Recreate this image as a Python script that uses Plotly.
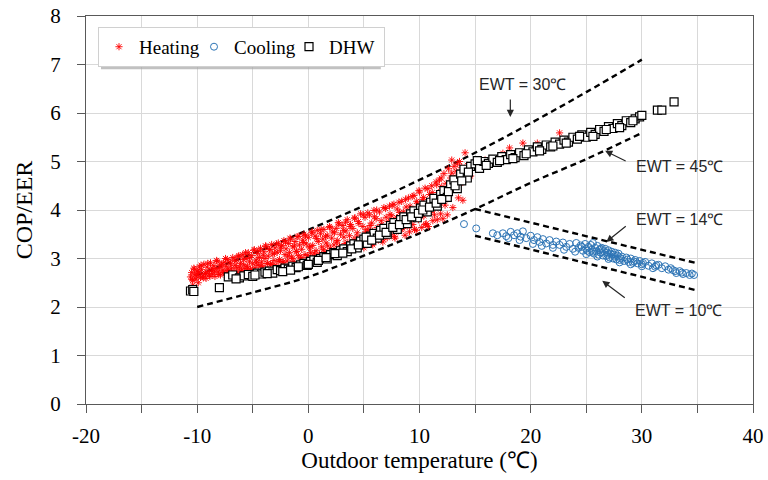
import plotly.graph_objects as go

# ---------------- data ----------------
heat_x = [
 -10.6,-10.5,-10.4,-10.3,-10.2,-10.1,-10.0,-9.9,-9.8,-9.7,
 -9.6,-9.5,-9.4,-9.3,-9.2,-9.1,-9.0,-8.9,-8.8,-8.7,
 -8.6,-8.5,-8.4,-8.3,-8.2,-8.1,-8.0,-7.9,-7.8,-7.7,
 -7.6,-7.5,-7.4,-7.3,-7.2,-7.1,-7.0,-6.9,-6.8,-6.7,
 -6.6,-6.5,-6.4,-6.3,-6.2,-6.1,-6.0,-5.9,-5.8,-5.7,
 -5.6,-5.5,-5.4,-5.3,-5.2,-5.1,-5.0,-4.9,-4.8,-4.7,
 -4.6,-4.5,-4.4,-4.3,-4.2,-4.1,-4.0,-3.9,-3.8,-3.7,
 -3.6,-3.5,-3.4,-3.3,-3.2,-3.1,-3.0,-2.9,-2.8,-2.7,
 -2.6,-2.5,-2.4,-2.3,-2.2,-2.1,-2.0,-1.9,-1.8,-1.7,
 -1.6,-1.5,-1.4,-1.3,-1.2,-1.1,-1.0,-0.9,-0.8,-0.7,
 -0.6,-0.5,-0.4,-0.3,-0.2,-0.1,0.0,0.1,0.2,0.3,
 0.4,0.5,0.6,0.7,0.8,0.9,1.0,1.1,1.2,1.3,
 1.4,1.5,1.6,1.7,1.8,1.9,2.0,2.1,2.2,2.3,
 2.4,2.5,2.6,2.7,2.8,2.9,3.0,3.1,3.2,3.3,
 3.4,3.5,3.6,3.7,3.8,3.9,4.0,4.1,4.2,4.3,
 4.4,4.5,4.6,4.7,4.8,4.9,5.0,5.1,5.2,5.3,
 5.4,5.5,5.6,5.7,5.8,5.9,6.0,6.1,6.2,6.3,
 6.4,6.5,6.6,6.7,6.8,6.9,7.0,7.1,7.2,7.3,
 7.4,7.5,7.6,7.7,7.8,7.9,8.0,8.1,8.2,8.3,
 8.4,8.5,8.6,8.7,8.8,8.9,9.0,9.1,9.2,9.3,
 9.4,9.5,9.6,9.7,9.8,9.9,10.0,10.1,10.2,10.3,
 10.4,10.5,10.6,10.7,10.8,10.9,11.0,11.1,11.2,11.3,
 11.4,11.5,11.6,11.7,11.8,11.9,12.0,
 12.1,12.2,12.3,12.4,12.5,12.6,12.7,12.8,12.9,12.9,
 13.0,13.1,13.2,13.3,13.3,13.4,13.5,13.6,13.7,13.8,
 13.9,14.1,14.3,14.6,15.0,15.9,16.6,17.5,18.1,18.1,
 19.3,20.6,22.6,-10.4,-9.9,
 -10.45,-10.25,-10.05,-9.85,-9.65,-9.45,-9.25,-9.05,-8.85,-8.65,
 -8.45,-8.25,-8.05,-7.85,-7.65,-7.45,-7.25,-7.05,-6.85,-6.65,
 -6.45,-6.25,-6.05,-5.85,-5.65,-5.45,-5.25,-5.05,-4.85,-4.65,
 -4.45,-4.25,-4.05,-3.85,-3.65,-3.45,-3.25,-3.05,-2.85,-2.65,
 -2.45,-2.25,-2.05,-1.85,-1.65,-1.45,-1.25,-1.05,-0.85,-0.65,
 -0.45,-0.25,-0.05,0.15,0.35,0.55,0.75,0.95,1.15,1.35,
 1.55,1.75,1.95,2.15,2.35,2.55,2.75,2.95,3.15,3.35,
 3.55,3.75,3.95,4.15,4.35,4.55,4.75,4.95,5.15,5.35,
 5.55,5.75,5.95,6.15,6.35,6.55,6.75,6.95,7.15,7.35,
 7.55,7.75,7.95,8.15,8.35,8.55,8.75,8.95,9.15,9.35,
 9.55,9.75,9.95,10.15,10.35,10.55,10.75,10.95,11.15,11.35,
 11.55,11.75,11.95]
heat_cop = [
 2.62,2.71,2.55,2.80,2.66,2.58,2.74,2.69,2.83,2.61,
 2.77,2.64,2.88,2.70,2.59,2.82,2.73,2.66,2.91,2.75,
 2.68,2.85,2.63,2.79,2.94,2.72,2.81,2.66,2.88,2.76,
 2.92,2.70,2.84,2.98,2.75,2.67,2.89,2.80,3.02,2.73,
 2.86,2.95,2.71,3.04,2.82,2.90,2.76,3.08,2.87,2.79,
 3.00,2.84,3.12,2.93,2.77,3.06,2.89,3.17,2.81,2.97,
 3.10,2.86,3.02,3.21,2.93,2.83,3.14,3.00,3.25,2.90,
 3.05,3.18,2.88,3.29,3.09,2.96,3.22,2.86,3.13,3.32,
 2.98,3.16,3.27,2.92,3.37,3.08,3.20,2.95,3.31,3.12,
 3.40,3.03,3.24,2.94,3.35,3.15,3.45,3.06,3.28,2.99,
 3.19,3.38,3.50,3.08,3.30,2.98,3.43,3.22,3.12,3.53,
 3.27,3.04,3.46,3.16,3.58,3.35,3.09,3.51,3.24,3.40,
 3.60,3.13,3.32,3.48,3.07,3.66,3.21,3.42,3.55,3.28,
 3.16,3.62,3.37,3.74,3.25,3.50,3.12,3.68,3.44,3.31,
 3.57,3.80,3.22,3.47,3.70,3.18,3.62,3.39,3.84,3.29,
 3.53,3.76,3.26,3.92,3.41,3.66,3.22,3.85,3.48,3.60,
 3.35,3.90,3.58,3.73,3.28,3.99,3.46,3.82,3.64,3.38,
 3.96,3.52,3.70,3.34,4.05,3.61,3.85,3.43,3.76,4.08,
 3.49,3.88,3.66,4.12,3.42,3.79,4.02,3.57,3.95,3.71,
 4.18,3.62,3.90,3.48,4.06,3.75,4.25,3.55,3.98,3.83,
 3.70,4.30,3.92,3.58,4.14,3.80,4.37,4.00,3.64,4.22,
 3.88,4.45,3.72,4.10,3.66,4.32,3.95,4.50,3.78,4.20,
 4.04,4.58,3.80,4.36,4.62,3.92,4.48,
 3.82,4.75,4.10,4.55,3.90,4.85,4.30,4.66,5.03,4.76,
 4.05,4.90,4.45,4.80,4.68,4.95,4.25,5.00,4.55,4.88,
 4.20,5.18,4.92,4.70,4.98,5.03,5.03,5.17,5.17,5.28,
 5.38,5.38,5.59,2.45,2.50,
 2.57,2.78,2.64,2.72,2.86,2.60,2.69,2.90,2.63,2.80,
 2.74,2.96,2.67,2.86,2.71,3.00,2.78,2.93,2.69,2.97,
 2.81,3.06,2.74,2.98,3.12,2.80,3.02,2.76,3.18,2.92,
 3.16,2.85,3.07,3.26,2.90,3.19,2.88,3.11,3.30,2.94,
 3.24,2.93,3.34,3.05,3.42,3.00,3.26,3.14,3.46,3.02,
 3.33,3.47,3.06,3.25,3.55,3.11,3.41,3.02,3.60,3.18,
 3.45,3.26,3.64,3.10,3.53,3.34,3.71,3.19,3.58,3.75,
 3.33,3.66,3.24,3.83,3.44,3.72,3.30,3.90,3.55,3.94,
 3.68,3.31,3.86,4.00,3.50,3.78,3.40,4.03,3.62,3.91,
 4.10,3.45,3.84,4.16,3.60,3.96,4.22,3.68,4.08,4.28,
 3.60,4.18,4.40,3.86,4.26,3.70,4.44,4.02,4.36,3.90,
 4.52,4.12,4.66]

cool_x = [
 14.0,15.1,16.6,17.5,17.8,18.2,18.5,18.8,19.1,19.3,
 19.6,20.0,20.3,20.6,20.8,21.1,21.4,21.7,22.0,22.3,
 22.6,22.9,23.2,23.5,23.8,24.1,24.3,24.5,24.7,24.9,
 25.0,25.2,25.3,25.4,25.5,25.6,25.7,25.8,25.9,26.0,
 26.1,26.2,26.3,26.4,26.5,26.6,26.7,26.8,26.9,27.0,
 27.1,27.2,27.3,27.4,27.5,27.6,27.7,27.8,27.9,28.0,
 28.2,28.4,28.6,28.8,29.0,29.2,29.4,29.6,29.8,30.0,
 30.3,30.6,30.9,31.2,31.5,31.8,32.1,32.4,32.8,33.1,
 33.4,33.7,34.0,34.3,34.7,
 17.0,18.0,19.0,20.2,21.0,22.0,23.0,24.0,25.0,26.0,
 27.0,28.0,29.0,30.0,31.0,24.6,25.1,25.6,26.3,26.9,
 27.5,28.1,28.7,29.3,30.1,31.3,32.6,33.0,33.6,34.5]
cool_eer = [
 3.71,3.62,3.52,3.52,3.46,3.55,3.48,3.52,3.45,3.56,
 3.42,3.47,3.38,3.44,3.34,3.40,3.31,3.38,3.28,3.35,
 3.28,3.33,3.24,3.30,3.20,3.32,3.22,3.27,3.16,3.30,
 3.20,3.24,3.13,3.28,3.18,3.32,3.10,3.22,3.15,3.26,
 3.08,3.18,3.12,3.22,3.06,3.15,3.20,3.05,3.12,3.17,
 3.02,3.10,3.14,3.00,3.08,3.12,2.98,3.06,3.10,2.97,
 3.04,2.95,3.02,2.93,3.00,2.91,2.97,2.90,2.95,2.88,
 2.93,2.85,2.90,2.83,2.87,2.80,2.84,2.77,2.76,2.70,
 2.74,2.68,2.70,2.66,2.66,
 3.48,3.42,3.38,3.30,3.26,3.22,3.18,3.14,3.09,3.04,
 2.99,2.92,2.88,2.84,2.80,3.24,3.16,3.14,3.20,3.08,
 3.04,3.00,2.98,2.94,2.91,2.86,2.80,2.74,2.71,2.69]

dhw_x = [
 -10.6,-10.4,-10.3,-8.0,-7.2,-6.8,-6.2,-5.8,-5.4,-5.0,
 -4.6,-4.2,-3.9,-3.5,-3.2,-2.8,-2.5,-2.1,-1.8,-1.4,
 -1.1,-0.7,-0.4,-0.1,0.2,0.5,0.8,1.1,1.4,1.7,
 2.0,2.3,2.6,2.9,3.2,3.5,3.8,4.1,4.4,4.7,
 5.0,5.3,5.6,5.9,6.2,6.5,6.8,7.1,7.4,7.7,
 8.0,8.3,8.6,8.9,9.2,9.5,9.8,10.1,10.4,10.7,
 11.0,11.3,11.6,11.9,12.2,12.5,12.8,13.1,13.4,13.7,
 14.0,14.3,14.6,15.0,15.4,15.8,16.2,16.6,17.0,17.4,
 17.8,18.2,18.6,19.0,19.4,19.8,20.2,20.6,21.0,21.4,
 21.8,22.2,22.6,23.0,23.4,23.8,24.2,24.6,25.0,25.4,
 25.8,26.2,26.6,27.0,27.4,27.8,28.2,28.6,29.0,29.4,
 29.8,31.4,31.8,32.9,
 -6.5,-4.8,-3.7,-2.3,-1.6,-0.9,0.0,0.9,1.6,2.4,
 3.1,3.9,4.5,5.2,5.7,6.4,7.0,7.6,8.2,8.8,
 9.3,9.9,10.3,10.9,11.5,12.0,12.6,13.2,13.8,14.4,
 15.2,16.0,17.2,18.4,19.6,20.8,22.0,23.2,24.4,25.6,
 26.8,28.0,29.2,30.0]
dhw_cop = [
 2.33,2.36,2.32,2.40,2.62,2.66,2.60,2.64,2.67,2.63,
 2.70,2.68,2.72,2.74,2.70,2.77,2.75,2.80,2.78,2.84,
 2.81,2.87,2.90,2.86,2.94,2.97,2.92,3.00,3.04,2.99,
 3.08,3.12,3.06,3.16,3.20,3.14,3.26,3.30,3.22,3.36,
 3.40,3.31,3.46,3.52,3.42,3.58,3.62,3.50,3.68,3.74,
 3.60,3.80,3.86,3.72,3.92,3.98,3.84,4.04,4.10,3.96,
 4.16,4.24,4.08,4.32,4.40,4.26,4.52,4.62,4.44,4.74,
 4.84,4.66,4.90,4.95,4.86,5.00,4.96,5.05,4.98,5.10,
 5.04,5.14,5.08,5.18,5.12,5.24,5.20,5.30,5.25,5.34,
 5.30,5.40,5.36,5.44,5.40,5.50,5.46,5.55,5.50,5.60,
 5.56,5.66,5.62,5.72,5.68,5.78,5.74,5.84,5.80,5.88,
 5.92,6.06,6.06,6.23,
 2.58,2.66,2.69,2.73,2.76,2.83,2.88,2.96,3.02,3.10,
 3.11,3.20,3.28,3.44,3.38,3.48,3.54,3.64,3.70,3.80,
 3.86,3.93,4.00,4.06,4.14,4.22,4.38,4.50,4.60,4.78,
 5.02,4.92,5.02,5.06,5.16,5.22,5.32,5.38,5.52,5.52,
 5.66,5.70,5.84,5.95]

# EWT reference curves
ewt30_x = [-10, -5, 0, 5, 10, 15, 20, 25, 30]
ewt30_y = [2.66, 3.10, 3.59, 4.09, 4.62, 5.18, 5.79, 6.43, 7.10]
ewt45_x = [-10, -5, 0, 5, 10, 15, 20, 25, 30]
ewt45_y = [2.00, 2.30, 2.62, 3.06, 3.52, 4.02, 4.56, 5.05, 5.59]
ewt14_x = [15, 35]
ewt14_y = [4.02, 2.90]
ewt10_x = [15, 35]
ewt10_y = [3.47, 2.34]

x_tick_vals = [-20, -10, 0, 10, 20, 30, 40]
x_tick_text = ["-20", "-10", "0", "10", "20", "30", "40"]

labels = ["EWT = 30℃", "EWT = 45℃", "EWT = 14℃", "EWT = 10℃"]
label_x = [19.25, 33.35, 33.35, 33.3]
label_y = [6.58, 4.89, 3.81, 1.92]
arrow_x = [18.17, 26.7, 26.8, 26.44]
arrow_y = [5.92, 5.22, 3.34, 2.54]
arrow_dx = [0, 22, 21, 24]
arrow_dy = [-19, 11, -17, 18]

SERIF = "Liberation Serif, Times New Roman, serif"
SANS = "Liberation Sans, Arial, sans-serif"

fig = go.Figure()

line_style = dict(color="black", width=2.4, dash="6px,4px")
for lx, ly in [(ewt30_x, ewt30_y), (ewt45_x, ewt45_y), (ewt14_x, ewt14_y), (ewt10_x, ewt10_y)]:
    fig.add_trace(go.Scatter(x=lx, y=ly, mode="lines", line=dict(line_style, shape="spline"),
                             showlegend=False, hoverinfo="skip"))

fig.add_trace(go.Scatter(x=heat_x, y=heat_cop, mode="markers", name="Heating",
                         marker=dict(symbol="asterisk-open", size=6, color="#FF0000",
                                     line=dict(color="#FF0000", width=0.9))))
fig.add_trace(go.Scatter(x=cool_x, y=cool_eer, mode="markers", name="Cooling",
                         marker=dict(symbol="circle-open", size=7, color="#2E75B6",
                                     line=dict(color="#2E75B6", width=1))))
fig.add_trace(go.Scatter(x=dhw_x, y=dhw_cop, mode="markers", name="DHW",
                         marker=dict(symbol="square", size=8, color="white",
                                     line=dict(color="black", width=1.2))))

for t, tx, ty in zip(labels, label_x, label_y):
    fig.add_annotation(x=tx, y=ty, xref="x", yref="y", text=t, showarrow=False,
                       font=dict(family=SANS, size=16, color="#262626"))
for hx, hy, dx, dy in zip(arrow_x, arrow_y, arrow_dx, arrow_dy):
    fig.add_annotation(x=hx, y=hy, xref="x", yref="y", text="", showarrow=True,
                       ax=dx, ay=dy, arrowhead=2, arrowsize=1.2, arrowwidth=1.2,
                       arrowcolor="#262626", standoff=0)

# legend drop shadow
fig.add_shape(type="rect", xref="paper", yref="paper",
              x0=0.0225, x1=0.442, y0=0.863, y1=0.961,
              fillcolor="#a6a6a6", line=dict(width=0), layer="above", opacity=0.7)

fig.update_layout(
    width=768, height=480,
    margin=dict(l=86, r=15, t=16, b=76),
    plot_bgcolor="white", paper_bgcolor="white",
    font=dict(family=SERIF, size=21, color="black"),
    legend=dict(orientation="h", x=0.018, y=0.972, xanchor="left", yanchor="top",
                bgcolor="white", bordercolor="#d0d0d0", borderwidth=1,
                font=dict(family=SERIF, size=19, color="black"), itemwidth=30,
                entrywidth=50, entrywidthmode="pixels", tracegroupgap=0),
    xaxis=dict(range=[-20, 40], tickvals=x_tick_vals, ticktext=x_tick_text,
               showgrid=True, gridcolor="#d9d9d9", automargin=False,
               gridwidth=1, ticks="outside", ticklen=8, tickcolor="#595959",
               showline=True, linecolor="#595959", linewidth=1.2, mirror=True,
               zeroline=False, ticklabelstandoff=5,
               minor=dict(dtick=5, tick0=-20, showgrid=True, gridcolor="#d9d9d9", ticks="outside",
                          ticklen=8, tickcolor="#595959"),
               title=dict(text="Outdoor temperature (℃)", font=dict(family=SERIF, size=23),
                          standoff=4),
               tickfont=dict(family=SERIF, size=21)),
    yaxis=dict(range=[0, 8], dtick=1, showgrid=True, gridcolor="#d9d9d9", gridwidth=1,
               ticks="outside", ticklen=8, tickcolor="#595959", automargin=False,
               showline=True, linecolor="#595959", linewidth=1.2, mirror=True,
               zeroline=False, ticklabelstandoff=12,
               title=dict(text="COP/EER", font=dict(family=SERIF, size=24), standoff=10),
               tickfont=dict(family=SERIF, size=21)),
)

fig.write_html("out.html", config={"displayModeBar": False},
               post_script="document.body.style.margin='0';document.body.style.overflow='hidden';")
